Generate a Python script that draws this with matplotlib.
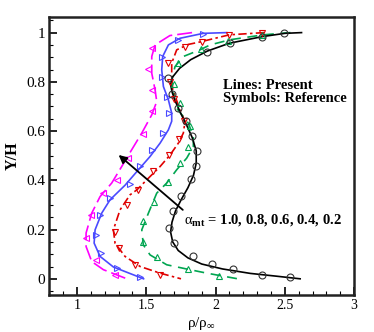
import matplotlib
matplotlib.use('Agg')
import matplotlib.pyplot as plt
from matplotlib.ticker import MultipleLocator

plt.rcParams['font.family'] = ['Liberation Serif', 'DejaVu Serif']
plt.rcParams['mathtext.fontset'] = 'custom'
plt.rcParams['mathtext.rm'] = 'Liberation Serif'
plt.rcParams['mathtext.it'] = 'Liberation Serif:italic'
plt.rcParams['mathtext.bf'] = 'Liberation Serif:bold'

# present results (lines), alpha_mt = 1.0, 0.8, 0.6, 0.4, 0.2
mag_x = [1.83, 1.67, 1.563, 1.539, 1.539, 1.563, 1.575, 1.539, 1.467, 1.394, 1.322, 1.25,
         1.166, 1.106, 1.065, 1.065, 1.106, 1.19, 1.36]
mag_y = [1.0, 0.988, 0.95, 0.903, 0.835, 0.767, 0.72, 0.666, 0.592, 0.524, 0.456, 0.389,
         0.334, 0.267, 0.186, 0.131, 0.07, 0.037, 0.0]
blue_x = [2.08, 1.911, 1.743, 1.659, 1.618, 1.611, 1.623, 1.659, 1.683, 1.683, 1.659, 1.599,
          1.527, 1.443, 1.346, 1.238, 1.178, 1.13, 1.123, 1.166, 1.262, 1.48]
blue_y = [1.0, 0.997, 0.977, 0.95, 0.903, 0.849, 0.781, 0.727, 0.673, 0.64, 0.605, 0.551,
          0.497, 0.443, 0.38, 0.321, 0.267, 0.199, 0.145, 0.091, 0.048, 0.0]
red_x = [2.35, 2.099, 1.887, 1.803, 1.719, 1.683, 1.683, 1.69, 1.743, 1.779, 1.767, 1.731,
         1.671, 1.599, 1.503, 1.431, 1.382, 1.31, 1.262, 1.274, 1.346, 1.455, 1.599, 1.75]
red_y = [1.0, 0.991, 0.962, 0.952, 0.93, 0.876, 0.821, 0.77, 0.686, 0.639, 0.592, 0.551,
         0.503, 0.456, 0.402, 0.361, 0.341, 0.28, 0.199, 0.145, 0.091, 0.05, 0.023, 0.0]
grn_x = [2.54, 2.344, 2.104, 1.96, 1.887, 1.767, 1.707, 1.683, 1.695, 1.719, 1.803, 1.839,
         1.839, 1.791, 1.719, 1.647, 1.575, 1.515, 1.467, 1.478, 1.527, 1.647, 1.815, 1.936, 2.16]
grn_y = [1.0, 0.991, 0.971, 0.95, 0.93, 0.903, 0.862, 0.808, 0.754, 0.693, 0.632, 0.578,
         0.537, 0.49, 0.443, 0.389, 0.348, 0.267, 0.199, 0.138, 0.097, 0.057, 0.037, 0.023, 0.0]
blk_x = [2.62, 2.5, 2.34, 2.1, 1.94, 1.82, 1.74, 1.69, 1.675, 1.685, 1.71, 1.75, 1.79, 1.83,
         1.86, 1.86, 1.84, 1.8, 1.75, 1.71, 1.685, 1.675, 1.69, 1.73, 1.8, 1.9, 2.05, 2.25, 2.45, 2.61]
blk_y = [1.0, 0.997, 0.984, 0.957, 0.925, 0.89, 0.855, 0.82, 0.79, 0.76, 0.72, 0.67, 0.625, 0.575,
         0.52, 0.47, 0.42, 0.37, 0.32, 0.275, 0.23, 0.19, 0.15, 0.115, 0.085, 0.06, 0.04, 0.022, 0.01, 0.0]

# reference results (symbols)
mag_sx = [1.539, 1.515, 1.539, 1.539, 1.478, 1.37, 1.286, 1.185, 1.101, 1.065, 1.137, 1.274]
mag_sy = [0.937, 0.851, 0.765, 0.683, 0.587, 0.49, 0.402, 0.348, 0.26, 0.165, 0.077, 0.016]
blue_sx = [1.907, 1.726, 1.611, 1.613, 1.647, 1.664, 1.623, 1.543, 1.455, 1.382, 1.238, 1.166,
           1.137, 1.171, 1.291, 1.455]
blue_sy = [0.995, 0.968, 0.9, 0.821, 0.74, 0.673, 0.592, 0.524, 0.46, 0.385, 0.33, 0.26,
           0.179, 0.104, 0.043, 0.009]
red_sx = [2.333, 2.099, 1.899, 1.779, 1.659, 1.671, 1.70, 1.772, 1.738, 1.666, 1.551, 1.443,
          1.359, 1.274, 1.305, 1.418, 1.599]
red_sy = [0.997, 0.991, 0.961, 0.941, 0.878, 0.80, 0.73, 0.639, 0.567, 0.503, 0.436, 0.361,
          0.30, 0.19, 0.125, 0.057, 0.016]
grn_sx = [2.333, 2.092, 1.892, 1.731, 1.70, 1.743, 1.815, 1.803, 1.743, 1.659, 1.558, 1.478,
          1.478, 1.58, 1.799, 2.025]
grn_sy = [0.991, 0.964, 0.932, 0.878, 0.79, 0.713, 0.62, 0.537, 0.47, 0.395, 0.31, 0.233,
          0.151, 0.088, 0.039, 0.012]
blk_sx = [2.496, 2.337, 2.104, 1.936, 1.659, 1.688, 1.731, 1.784, 1.832, 1.863, 1.856, 1.82,
          1.75, 1.69, 1.661, 1.697, 1.835, 1.974, 2.128, 2.335, 2.537]
blk_sy = [0.997, 0.981, 0.957, 0.923, 0.817, 0.75, 0.693, 0.639, 0.581, 0.521, 0.46, 0.405,
          0.337, 0.274, 0.208, 0.146, 0.093, 0.06, 0.039, 0.016, 0.007]

fig = plt.figure(figsize=(3.74, 3.32), dpi=100)
ax = fig.add_axes([0.132, 0.112, 0.815, 0.838])

lw = 1.2
ax.plot(mag_x, mag_y, color='#ff00ff', lw=lw, dashes=(9, 3))
ax.plot(blue_x, blue_y, color='#4a4aff', lw=lw)
ax.plot(red_x, red_y, color='#e00000', lw=lw, dashes=(5, 2, 1.5, 2))
ax.plot(grn_x, grn_y, color='#00a550', lw=lw, dashes=(6, 4))
ax.plot(blk_x, blk_y, color='black', lw=lw)

ms = 4.5
ax.plot(mag_sx, mag_sy, ls='none', marker='<', ms=ms, mfc='none', mec='#ff00ff', mew=0.8)
ax.plot(blue_sx, blue_sy, ls='none', marker='>', ms=ms, mfc='none', mec='#4a4aff', mew=0.8)
ax.plot(red_sx, red_sy, ls='none', marker='v', ms=ms, mfc='none', mec='#e00000', mew=0.8)
ax.plot(grn_sx, grn_sy, ls='none', marker='^', ms=ms, mfc='none', mec='#00a550', mew=0.8)
ax.plot(blk_sx, blk_sy, ls='none', marker='o', ms=5, mfc='none', mec='#333333', mew=0.8)

ax.annotate('', xy=(1.30, 0.503), xytext=(1.763, 0.28),
            arrowprops=dict(arrowstyle='-|>', color='black', lw=1.3,
                            mutation_scale=12, shrinkA=0, shrinkB=0))

ax.text(2.053, 0.81, 'Lines: Present\nSymbols: Reference', fontsize=10.5,
        fontweight='bold', va='top', ha='left', linespacing=1.0)
ax.text(1.772, 0.24, r'$\mathrm{\alpha}_{\mathbf{mt}}$ = 1.0, 0.8, 0.6, 0.4, 0.2',
        fontsize=10.5, fontweight='bold', va='center', ha='left')

ax.set_xlim(0.8, 3.0)
ax.set_ylim(-0.065, 1.065)
ax.xaxis.set_minor_locator(MultipleLocator(0.1))
ax.yaxis.set_minor_locator(MultipleLocator(0.05))
ax.set_xticks([1, 1.5, 2, 2.5, 3])
ax.set_xticklabels(['1', '1.5', '2', '2.5', '3'])
ax.set_yticks([0, 0.2, 0.4, 0.6, 0.8, 1])
ax.set_yticklabels(['0', '0.2', '0.4', '0.6', '0.8', '1'])
ax.tick_params(which='major', direction='in', length=6, width=1.2, pad=3)
ax.tick_params(axis='x', which='major', labelsize=10)
ax.tick_params(axis='y', which='major', labelsize=11)
ax.tick_params(which='minor', direction='in', length=3, width=0.8)
for s in ax.spines.values():
    s.set_linewidth(1.8)
    s.set_color('#222222')

ax.set_xlabel(r'ρ/ρ$_\infty$', fontsize=11, labelpad=2)
ax.set_ylabel('Y/H', fontsize=11.5, fontweight='bold', labelpad=4)

fig.savefig('out.png', dpi=100)
